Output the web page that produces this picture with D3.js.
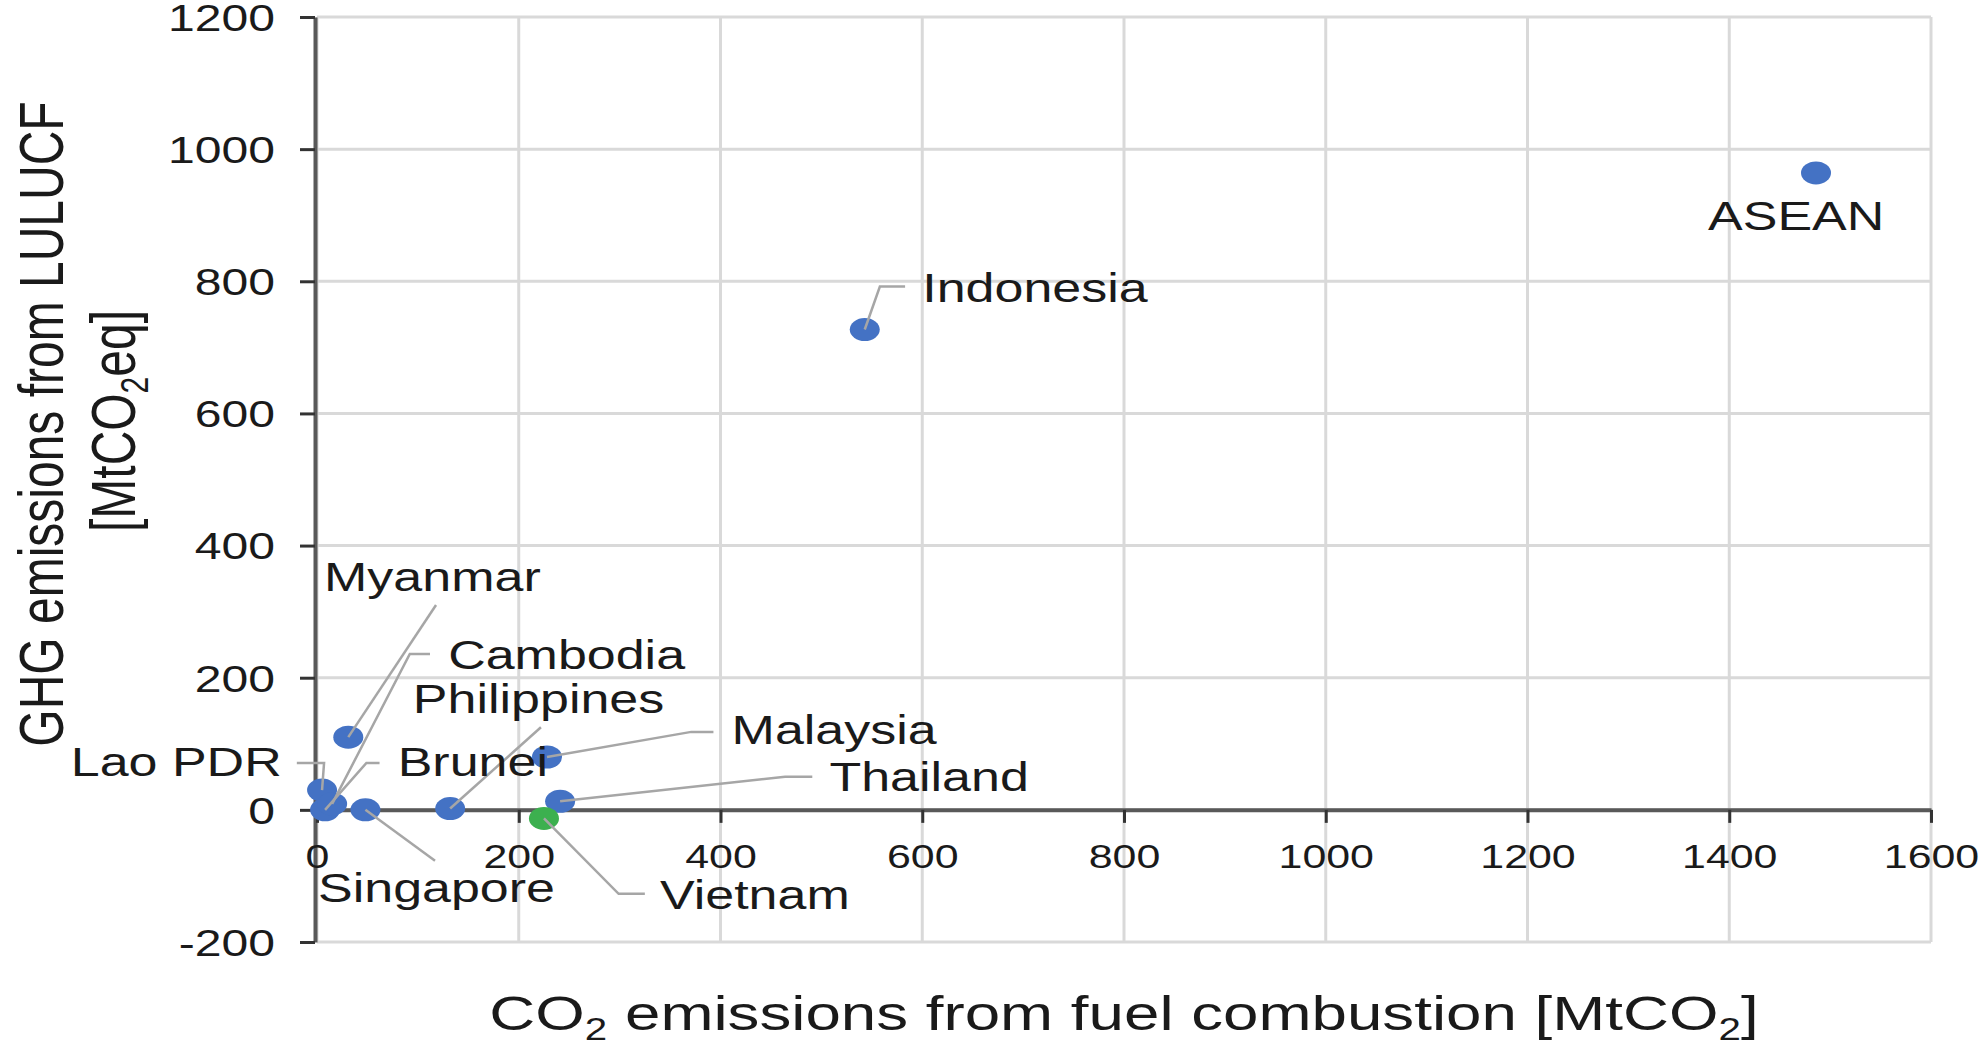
<!DOCTYPE html>
<html>
<head>
<meta charset="utf-8">
<script src="https://cdn.jsdelivr.net/npm/d3@7"></script>
<style>
  body { margin: 0; background: #ffffff; }
  svg { display: block; font-family: "Liberation Sans", Arial, sans-serif; }
</style>
</head>
<body>
<div id="chart"></div>
<script>
// data
const countries = ["ASEAN", "Indonesia", "Myanmar", "Malaysia", "Thailand", "Vietnam",
                   "Philippines", "Singapore", "Lao PDR", "Brunei", "Cambodia"];
const co2Fuel   = [1486, 543, 31, 228, 241, 225, 132, 48, 5, 8, 15];   // MtCO2
const ghgLulucf = [964, 727, 110, 80, 13, -13, 2, 0, 30, 0, 9];        // MtCO2eq
const xTicks = [0, 200, 400, 600, 800, 1000, 1200, 1400, 1600];
const yTicks = [-200, 0, 200, 400, 600, 800, 1000, 1200];
const highlighted = "Vietnam";

// label placement, in data units (text anchor point + elbow points of the leader line)
const labelLayout = {
  "ASEAN":       { at: [1379, 878],  anchor: "start", leader: [] },
  "Indonesia":   { at: [600, 768],   anchor: "start", leader: [[583, 792], [558, 792]] },
  "Myanmar":     { at: [7, 331],     anchor: "start", leader: [[118, 310]] },
  "Cambodia":    { at: [130, 213],   anchor: "start", leader: [[112, 236], [92, 236]] },
  "Philippines": { at: [95, 147],    anchor: "start", leader: [[222, 125]] },
  "Brunei":      { at: [80, 51],     anchor: "start", leader: [[62, 71], [49, 71]] },
  "Lao PDR":     { at: [-35, 51],    anchor: "end",   leader: [[-20, 71], [7, 71]] },
  "Malaysia":    { at: [411, 100],   anchor: "start", leader: [[393, 118], [371, 118]] },
  "Thailand":    { at: [508, 29],    anchor: "start", leader: [[491, 50], [464, 50]] },
  "Vietnam":     { at: [340, -150],  anchor: "start", leader: [[325, -127], [299, -127]] },
  "Singapore":   { at: [1, -140],    anchor: "start", leader: [[117, -77]] }
};

const width = 1982, height = 1043;
const stretch = 1.3;           // the picture is widened horizontally
const gridColor = "#d9d9d9";
const axisColor = "#595959";
const dotColor = "#4472c4";
const hiColor = "#3cb04f";
const textColor = "#1a1a1a";

const svg = d3.select("#chart").append("svg")
  .attr("width", width)
  .attr("height", height);

const x = d3.scaleLinear().domain([0, 1600]).range([317, 1931]);
const y = d3.scaleLinear().domain([-200, 1200]).range([942, 17]);
const plain = d => (d < 0 ? "-" : "") + Math.abs(d);

// grid
svg.append("g").selectAll("line").data(xTicks).join("line")
  .attr("x1", d => x(d)).attr("x2", d => x(d))
  .attr("y1", y(-200)).attr("y2", y(1200))
  .attr("stroke", gridColor).attr("stroke-width", 3);
svg.append("g").selectAll("line").data(yTicks).join("line")
  .attr("x1", x(0)).attr("x2", x(1600))
  .attr("y1", d => y(d)).attr("y2", d => y(d))
  .attr("stroke", gridColor).attr("stroke-width", 3);

// y axis
const yAxis = svg.append("g")
  .attr("transform", `translate(${x(0) - 2},0)`)
  .call(d3.axisLeft(y).tickValues(yTicks).tickFormat(plain).tickSize(15).tickSizeOuter(0));
yAxis.select(".domain").attr("stroke", axisColor).attr("stroke-width", 4);
yAxis.selectAll(".tick line").attr("stroke", "#333").attr("stroke-width", 3);
yAxis.selectAll(".tick text")
  .attr("x", 0).attr("dy", "0.36em")
  .attr("transform", `translate(${275 - (x(0) - 2)},0) scale(${stretch},1)`)
  .attr("fill", textColor)
  .style("font-size", "37px");

// x axis on the zero line
const xAxis = svg.append("g")
  .attr("transform", `translate(0,${y(0)})`)
  .call(d3.axisBottom(x).tickValues(xTicks).tickFormat(plain).tickSize(13).tickSizeOuter(0));
xAxis.select(".domain").attr("stroke", axisColor).attr("stroke-width", 4);
xAxis.selectAll(".tick line").attr("stroke", "#333").attr("stroke-width", 3);
xAxis.selectAll(".tick text")
  .attr("y", 0).attr("dy", 0)
  .attr("transform", `translate(0,${868 - y(0)}) scale(${stretch},1)`)
  .attr("fill", textColor)
  .style("font-size", "33px");

svg.selectAll("g").attr("font-family", null);

// points
const points = countries.map((c, i) => ({ name: c, cx: co2Fuel[i], cy: ghgLulucf[i] }));

svg.append("g").selectAll("ellipse").data(points).join("ellipse")
  .attr("cx", d => x(d.cx))
  .attr("cy", d => y(d.cy))
  .attr("rx", 15)
  .attr("ry", 11.5)
  .attr("fill", d => d.name === highlighted ? hiColor : dotColor);

// leader lines
const line = d3.line();
svg.append("g").selectAll("path")
  .data(points.filter(d => labelLayout[d.name].leader.length))
  .join("path")
  .attr("d", d => line(labelLayout[d.name].leader
    .map(p => [x(p[0]), y(p[1])])
    .concat([[x(d.cx), y(d.cy)]])))
  .attr("fill", "none")
  .attr("stroke", "#a6a6a6")
  .attr("stroke-width", 2.5);

// labels
svg.append("g").selectAll("text").data(points).join("text")
  .attr("transform", d => {
    const p = labelLayout[d.name].at;
    return `translate(${x(p[0])},${y(p[1])}) scale(${stretch},1)`;
  })
  .attr("text-anchor", d => labelLayout[d.name].anchor)
  .attr("fill", textColor)
  .style("font-size", "40px")
  .text(d => d.name);

// x title
const xTitle = svg.append("text")
  .attr("transform", `translate(${(x(0) + x(1600)) / 2},1030) scale(${stretch},1)`)
  .attr("text-anchor", "middle")
  .attr("fill", textColor)
  .style("font-size", "49px");
xTitle.append("tspan").text("CO");
xTitle.append("tspan").attr("dy", 10).style("font-size", "31px").text("2");
xTitle.append("tspan").attr("dy", -10).text(" emissions from fuel combustion [MtCO");
xTitle.append("tspan").attr("dy", 10).style("font-size", "31px").text("2");
xTitle.append("tspan").attr("dy", -10).text("]");

// y title, two lines
svg.append("text")
  .attr("transform", `translate(63,424) rotate(-90) scale(1,${stretch})`)
  .attr("text-anchor", "middle")
  .attr("fill", textColor)
  .style("font-size", "48px")
  .text("GHG emissions from LULUCF");

const yTitle2 = svg.append("text")
  .attr("transform", `translate(135,421) rotate(-90) scale(1,${stretch})`)
  .attr("text-anchor", "middle")
  .attr("fill", textColor)
  .style("font-size", "48px");
yTitle2.append("tspan").text("[MtCO");
yTitle2.append("tspan").attr("dy", 10).style("font-size", "30px").text("2");
yTitle2.append("tspan").attr("dy", -10).text("eq]");
</script>
</body>
</html>
